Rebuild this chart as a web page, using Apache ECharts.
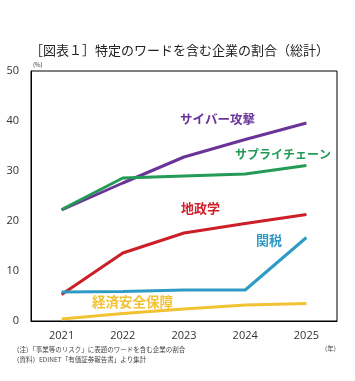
<!DOCTYPE html>
<html><head><meta charset="utf-8">
<script src="https://cdn.jsdelivr.net/npm/echarts@6/dist/echarts.min.js"></script>
<style>html,body{margin:0;padding:0;background:#fff}#c{width:355px;height:381px}</style>
</head><body><div id="c"></div>
<script>
const years = ['2021','2022','2023','2024','2025'];
const cyber = [22.2, 27.6, 32.8, 36.3, 39.6];
const supply = [22.3, 28.6, 29.0, 29.4, 31.1];
const geo = [5.3, 13.6, 17.6, 19.5, 21.3];
const tariff = [5.8, 5.9, 6.2, 6.2, 16.7];
const econSec = [0.4, 1.5, 2.4, 3.2, 3.5];
const yTicks = [0, 10, 20, 30, 40, 50];

const F = '"Noto Sans CJK JP", sans-serif';
const chart = echarts.init(document.getElementById('c'));
function ser(name, data, color){
  return {name, type:'line', data, symbol:'none', smooth:false,
    lineStyle:{color, width:3}, itemStyle:{color}, z:3};
}
chart.setOption({
  animation:false,
  grid:{left:31, right:18, top:71, bottom:60, show:true, borderColor:'#000', borderWidth:1, backgroundColor:'transparent'},
  xAxis:{type:'category', data:years, boundaryGap:true,
    axisLine:{show:true, lineStyle:{color:'#000', width:1}}, axisTick:{show:false},
    axisLabel:{color:'#333', fontSize:11, fontFamily:'"Open Sans", sans-serif', margin:9}},
  yAxis:{type:'value', min:0, max:50, interval:10,
    axisLine:{show:true, lineStyle:{color:'#000', width:1}}, axisTick:{show:false}, splitLine:{show:false},
    axisLabel:{color:'#333', fontSize:11, fontFamily:'"Open Sans", sans-serif', margin:12,
      formatter:v => yTicks.includes(v) ? String(v) : ''}},
  series:[
    ser('サイバー攻撃', cyber, '#6a3499'),
    ser('サプライチェーン', supply, '#239a55'),
    ser('地政学', geo, '#cc1f28'),
    ser('関税', tariff, '#2e9bc6'),
    ser('経済安全保障', econSec, '#f2c233')
  ],
  graphic:[
    {type:'text', left:30, top:44, style:{text:'［図表１］特定のワードを含む企業の割合（総計）', fontSize:13, fontFamily:F, fill:'#222'}},
    {type:'text', left:33, top:62, style:{text:'(%)', fontSize:6, fontFamily:F, fill:'#333'}},
    {type:'text', left:180, top:113, style:{text:'サイバー攻撃', fontSize:12.5, fontWeight:'bold', fontFamily:F, fill:'#6a3499'}},
    {type:'text', left:235, top:148, style:{text:'サプライチェーン', fontSize:12, fontWeight:'bold', fontFamily:F, fill:'#239a55'}},
    {type:'text', left:181, top:202, style:{text:'地政学', fontSize:13, fontWeight:'bold', fontFamily:F, fill:'#d01f28'}},
    {type:'text', left:256, top:234, style:{text:'関税', fontSize:13, fontWeight:'bold', fontFamily:F, fill:'#2e9bc6'}},
    {type:'text', left:92, top:295, style:{text:'経済安全保障', fontSize:13.5, fontWeight:'bold', fontFamily:F, fill:'#f2c233'}},
    {type:'text', left:13, top:346, style:{text:'（注）「事業等のリスク」に表題のワードを含む企業の割合', fontSize:6.5, fontFamily:F, fill:'#444'}},
    {type:'text', left:13, top:356, style:{text:'（資料）EDINET「有価証券報告書」より集計', fontSize:6.5, fontFamily:F, fill:'#444'}},
    {type:'text', left:325, top:345, style:{text:'(年)', fontSize:6.5, fontFamily:F, fill:'#444'}}
  ]
});
</script></body></html>
